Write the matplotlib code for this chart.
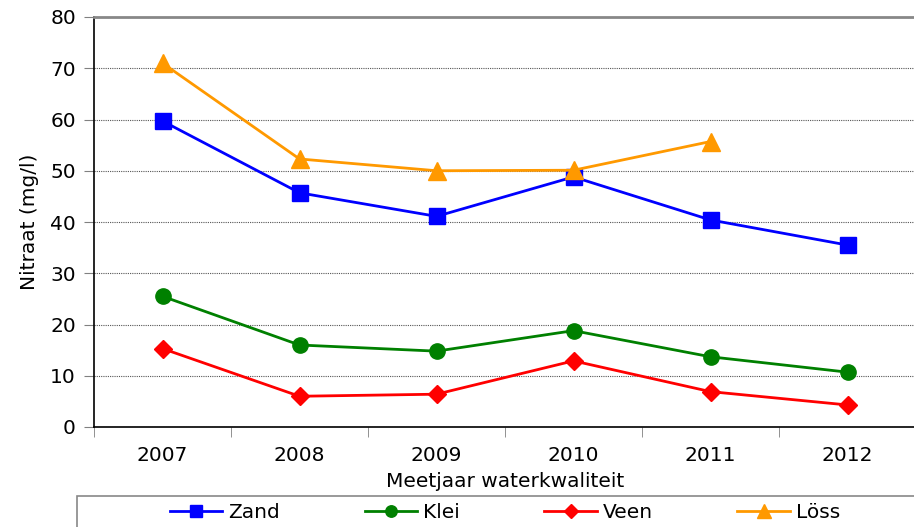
import matplotlib.pyplot as plt
from matplotlib.patches import Rectangle
import numpy as np

years = ["2007", "2008", "2009", "2010", "2011", "2012"]
zand = [59.7, 45.7, 41.1, 48.8, 40.4, 35.5]
klei = [25.5, 16.0, 14.8, 18.8, 13.7, 10.7]
veen = [15.3, 6.0, 6.4, 12.9, 6.9, 4.3]
loss = [71.0, 52.3, 50.0, 50.1, 55.7]

W, H = 914, 527
fig = plt.figure(figsize=(W / 100, H / 100), dpi=100)
ax = fig.add_axes([94 / W, 1 - 427 / H, 822 / W, 410 / H])

x = np.arange(len(years))
series = [
    ("Zand", zand, "#0000ff", "s", 11),
    ("Klei", klei, "#008000", "o", 11),
    ("Veen", veen, "#ff0000", "D", 9),
    ("Löss", loss, "#ff9900", "^", 13),
]
handles = []
for name, vals, col, mk, ms in series:
    ax.plot(x[:len(vals)], vals, color=col, lw=2, marker=mk, ms=ms, zorder=3)
    h, = ax.plot([], [], color=col, lw=2, marker=mk, ms=ms * 0.75, label=name)
    handles.append(h)

ax.set_xlim(-0.5, 5.5)
ax.set_ylim(0, 80)
ax.set_yticks(np.arange(0, 81, 10))
ax.set_xticks(x)
ax.set_xticklabels(years)
ax.set_xticks(np.arange(-0.5, 6, 1), minor=True)
ax.tick_params(axis="x", which="major", length=0, pad=14, labelsize=14.5)
ax.tick_params(axis="x", which="minor", length=7, color="#808080")
ax.tick_params(axis="y", length=7, color="#808080", labelsize=14.5, pad=6)
ax.grid(axis="y", linestyle=(0, (1, 1)), color="#555555", lw=0.8)

ax.spines["top"].set_color("#888888")
ax.spines["top"].set_linewidth(2)
ax.spines["right"].set_color("#cccccc")
ax.spines["left"].set_linewidth(1.2)
ax.spines["bottom"].set_linewidth(1.2)

ax.set_xlabel("Meetjaar waterkwaliteit", fontsize=14.5, labelpad=5)
ax.set_ylabel("Nitraat (mg/l)", fontsize=14.5, labelpad=8)

# legend box below the chart
fig.patches.append(Rectangle((77 / W, -0.05), 1.0, 1 - 496 / H + 0.05,
                             transform=fig.transFigure, fill=False,
                             edgecolor="#888888", lw=1.2))
fig.legend(handles=handles, ncol=4, loc="center",
           bbox_to_anchor=(505 / W, 1 - 513 / H),
           fontsize=14.5, frameon=False, handlelength=2.6,
           handletextpad=0.3, columnspacing=4.2, borderaxespad=0)

fig.savefig("out.png", dpi=100)
